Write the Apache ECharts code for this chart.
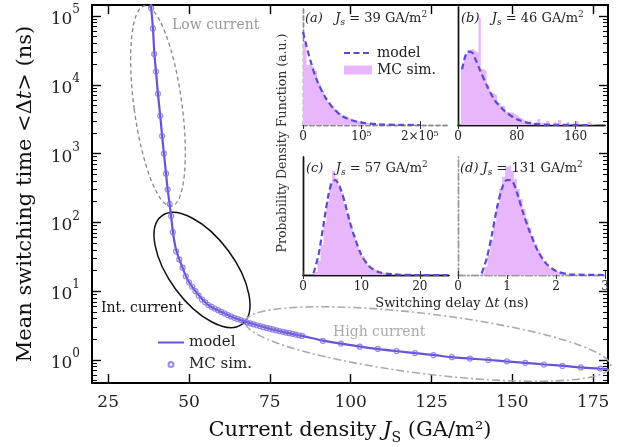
<!DOCTYPE html>
<html>
<head>
<meta charset="utf-8">
<script src="https://cdn.jsdelivr.net/npm/echarts@6/dist/echarts.min.js"></script>
<style>
  html, body { margin: 0; background: #fff; }
  #chart { width: 619px; height: 447px; }
</style>
</head>
<body>
<div id="chart"></div>
<script>
const FONT = 'DejaVu Serif';

// ---- main panel data ----
const xTicks = [25, 50, 75, 100, 125, 150, 175];
const yTicks = [1, 10, 100, 1000, 10000, 100000];
const yMinorTicks = [0.5, 0.6, 0.7, 0.8, 0.9,
  2, 3, 4, 5, 6, 7, 8, 9,
  20, 30, 40, 50, 60, 70, 80, 90,
  200, 300, 400, 500, 600, 700, 800, 900,
  2000, 3000, 4000, 5000, 6000, 7000, 8000, 9000,
  20000, 30000, 40000, 50000, 60000, 70000, 80000, 90000];

// model curve, [J (GA/m2), <dt> (ns)]
const modelCurve = [
  [38.2, 1.5e5], [38.85, 6.6e4], [39.3, 2.8e4], [39.8, 1.56e4], [40.4, 7.4e3],
  [41.1, 3.55e3], [41.7, 1.8e3], [42.25, 1.0e3], [42.9, 510], [43.4, 300],
  [44, 185], [44.5, 118], [45, 75], [45.5, 52], [46, 40], [47, 29], [48, 22],
  [49, 16.8], [50, 13.6], [52, 10], [54, 7.7], [56, 6.3], [58, 5.55], [60, 5.0],
  [63, 4.3], [66, 3.8], [70, 3.3], [75, 2.85], [80, 2.5], [85, 2.24], [91, 1.93],
  [97, 1.73], [103, 1.56], [108, 1.45], [114, 1.35], [120, 1.26], [126, 1.18],
  [131, 1.1], [137, 1.05], [143, 1.0], [148, 0.955], [154, 0.91], [160, 0.86],
  [166, 0.82], [171, 0.78], [177, 0.75], [179.6, 0.74]
];

// Monte Carlo points
const mcSim = [
  [38.3, 1.3e5], [38.85, 6.6e4], [39.25, 2.8e4], [39.8, 1.56e4], [40.4, 7.4e3],
  [41.1, 3.55e3], [41.7, 1.8e3], [42.25, 1.0e3], [42.9, 510], [43.4, 300],
  [44.0, 185], [44.5, 123], [45, 72], [46, 38], [47, 29], [48, 22], [49, 16.5],
  [50, 13.5], [51, 11.6], [52, 10], [53, 8.6], [54, 7.6], [55, 6.9], [56, 6.3],
  [57, 5.9], [58, 5.6], [59, 5.3], [60, 5.0], [61, 4.75], [62, 4.5], [63, 4.3],
  [64, 4.1], [65, 3.95], [66, 3.8], [67, 3.65], [68, 3.5], [69, 3.4], [70, 3.3],
  [71, 3.2], [72, 3.1], [73, 3.0], [74, 2.92], [75, 2.85], [76, 2.78], [77, 2.7],
  [78, 2.63], [79, 2.57], [80, 2.5], [81, 2.45], [82, 2.4], [83, 2.34], [84, 2.29],
  [85, 2.24], [91.4, 1.9], [97, 1.73], [102.8, 1.56], [108.4, 1.45], [114.2, 1.35],
  [119.9, 1.26], [125.6, 1.18], [131.3, 1.1], [136.9, 1.05], [142.6, 1.0],
  [148.3, 0.955], [154, 0.91], [159.8, 0.86], [165.5, 0.82], [171.2, 0.78], [177.2, 0.75]
];

// ---- inset data (pdf in a.u.) ----
const insetTags = ['a', 'b', 'c', 'd'];
const insetJs = [39, 46, 57, 131];
const insetXMax = [2.5e5, 200, 25, 3];
const ticksA = [0, 1e5, 2e5];
const labelsA = ['0', '10⁵', '2×10⁵'];
const ticksB = [0, 80, 160];
const labelsB = ['0', '80', '160'];
const ticksC = [0, 10, 20];
const labelsC = ['0', '10', '20'];
const ticksD = [0, 1, 2, 3];
const labelsD = ['0', '1', '2', '3'];

const histA = [[0, 82], [6000, 60], [12000, 58], [18000, 54], [24000, 42], [30000, 34],
  [36000, 28], [42000, 23], [48000, 19], [54000, 15], [60000, 12], [66000, 9.5],
  [72000, 7.5], [78000, 6], [84000, 4.8], [90000, 3.8], [96000, 3], [102000, 2.2],
  [108000, 1.8], [114000, 1.3], [120000, 1], [126000, 0.8], [132000, 0.6],
  [138000, 0.5], [144000, 0.4], [150000, 0.3], [156000, 0.25], [162000, 0.2],
  [168000, 0.1], [174000, 0.1], [180000, 0]];
const modelA = [[0, 93], [12400, 65], [23700, 45], [37800, 28], [51900, 16.7],
  [68800, 8.3], [97100, 2.7], [131000, 0.7], [165000, 0.1], [200000, 0]];

const histB = [[4, 59], [8, 70], [12, 75], [16, 76], [20, 74], [24, 72], [28, 107],
  [31, 56], [35, 54], [39, 40], [42, 44], [44, 32], [48, 30], [53, 22], [58, 19],
  [64, 13], [70, 12], [76, 10], [80, 8], [84, 6], [88, 4.5], [92, 3], [96, 5],
  [100, 2], [104, 3], [108, 6], [112, 2], [116, 1], [120, 4], [124, 1], [128, 3],
  [132, 1], [136, 5], [140, 1], [144, 0], [148, 3], [152, 0], [156, 1], [160, 4],
  [164, 0], [168, 1], [172, 0], [176, 3], [180, 1], [184, 0], [188, 2], [192, 0]];
const modelB = [[5.6, 55.7], [9.3, 67.4], [13.8, 73.4], [19.2, 72.4], [23.7, 65.7],
  [30.5, 54], [39.5, 39], [50.8, 24], [64.4, 13.4], [80.2, 5.7], [100.6, 1.4],
  [132, 0.2], [182, 0]];

const histC = [[2, 3], [2.5, 14], [3, 30], [3.5, 52], [4, 74], [4.5, 92], [5, 104],
  [5.5, 97], [6, 90], [6.5, 82], [7, 70], [7.5, 60], [8, 50], [8.5, 41], [9, 32],
  [9.5, 25], [10, 19], [10.5, 14], [11, 10], [11.5, 7], [12, 5], [12.5, 3.5],
  [13, 2.5], [13.5, 1.8], [14, 1.2], [14.5, 0.8], [15, 0.6], [16, 0.3], [17, 0.2], [18, 0]];
const modelC = [[1.8, 1.7], [2.65, 20], [3.5, 50], [4.35, 80], [4.9, 91.7], [5.5, 95],
  [6.3, 88], [7.2, 71.7], [8.0, 53.3], [8.9, 36.7], [10, 20], [11.4, 8.3],
  [13.1, 2.7], [15.4, 0.7], [19.3, 0], [24.7, 0]];

const histD = [[0.48, 2], [0.54, 8], [0.6, 20], [0.66, 35], [0.72, 52], [0.78, 70],
  [0.84, 86], [0.9, 98], [0.96, 108], [1.02, 110], [1.08, 104], [1.14, 96],
  [1.2, 86], [1.26, 76], [1.32, 66], [1.38, 56], [1.44, 47], [1.5, 39], [1.56, 31],
  [1.62, 25], [1.68, 19], [1.74, 14], [1.8, 10], [1.86, 7], [1.92, 5], [1.98, 3.5],
  [2.04, 2.5], [2.1, 1.8], [2.16, 1.2], [2.22, 0.8], [2.28, 0.5], [2.4, 0.2], [2.5, 0]];
const modelD = [[0.484, 1.7], [0.587, 16.7], [0.69, 40], [0.794, 66.7], [0.898, 86.7],
  [1.0, 95], [1.105, 94], [1.208, 81.7], [1.31, 65], [1.45, 45], [1.62, 25],
  [1.795, 11.7], [2.0, 4], [2.28, 0.7], [3.0, 0]];

const LINE_COLOR = '#6553d8';
const DASH_COLOR = '#5a4cd0';
const PINK = '#e7b6fb';

const insets = [
  { grid: { left: 303, top: 7, width: 146, height: 118 }, ticks: ticksA, labels: labelsA,
    hist: histA, model: modelA, border: [4, 3], color: '#8a8a8a', tx: 305, ty: 19, gap: '   ' },
  { grid: { left: 458, top: 7, width: 147, height: 118 }, ticks: ticksB, labels: labelsB,
    hist: histB, model: modelB, border: 'solid', color: '#111', tx: 461, ty: 19, gap: '   ' },
  { grid: { left: 303, top: 157, width: 146, height: 118 }, ticks: ticksC, labels: labelsC,
    hist: histC, model: modelC, border: 'solid', color: '#111', tx: 306, ty: 169, gap: '   ' },
  { grid: { left: 458, top: 157, width: 147, height: 118 }, ticks: ticksD, labels: labelsD,
    hist: histD, model: modelD, border: [7, 2.5, 1.5, 2.5], color: '#9a9a9a', tx: 460, ty: 169, gap: ' ' }
];

const chart = echarts.init(document.getElementById('chart'));

const grids = [{ left: 92, right: 11, top: 5, bottom: 64, outerBoundsMode: 'none' }];
const xAxes = [];
const yAxes = [];
const series = [];

const frame = { show: true, lineStyle: { color: '#000', width: 2 } };
const majorTick = { inside: true, length: 9, customValues: xTicks, lineStyle: { color: '#000', width: 1.4 } };

xAxes.push({
  gridIndex: 0, type: 'value', min: 20, max: 179.6, position: 'bottom',
  axisLine: frame, axisTick: majorTick, splitLine: { show: false },
  axisLabel: { customValues: xTicks, fontFamily: FONT, fontSize: 17, color: '#222', margin: 11 },
  name: 'Current density {i|J}{s|S} (GA/m²)', nameLocation: 'middle', nameGap: 34,
  nameTextStyle: {
    fontFamily: FONT, fontSize: 21, color: '#111', lineHeight: 28,
    rich: {
      i: { fontFamily: FONT, fontSize: 21, fontStyle: 'italic', color: '#111' },
      s: { fontFamily: FONT, fontSize: 14, color: '#111', verticalAlign: 'bottom', lineHeight: 28 }
    }
  }
});
xAxes.push({
  gridIndex: 0, type: 'value', min: 20, max: 179.6, position: 'top',
  axisLine: frame, axisTick: majorTick, axisLabel: { show: false }, splitLine: { show: false }
});

const yLabel = {
  customValues: yTicks, margin: 12,
  formatter: v => '{b|10}{e|' + Math.round(Math.log10(v)) + '}',
  rich: {
    b: { fontFamily: FONT, fontSize: 17, color: '#222', lineHeight: 24, verticalAlign: 'bottom' },
    e: { fontFamily: FONT, fontSize: 12, color: '#222', lineHeight: 24, verticalAlign: 'top' }
  }
};
['left', 'right'].forEach(pos => {
  yAxes.push({
    gridIndex: 0, type: 'log', logBase: 10, min: 0.463, max: 1.445e5, position: pos,
    axisLine: frame, splitLine: { show: false },
    axisTick: { inside: true, length: 9, customValues: yTicks, lineStyle: { color: '#000', width: 1.4 } },
    axisLabel: pos === 'left' ? yLabel : { show: false },
    name: pos === 'left' ? 'Mean switching time <Δ{i|t}> (ns)' : '',
    nameLocation: 'middle', nameGap: 56,
    nameTextStyle: {
      fontFamily: FONT, fontSize: 21, color: '#111',
      rich: { i: { fontFamily: FONT, fontSize: 21, fontStyle: 'italic', color: '#111' } }
    }
  });
  yAxes.push({
    gridIndex: 0, type: 'log', logBase: 10, min: 0.463, max: 1.445e5, position: pos,
    axisLine: { show: false }, splitLine: { show: false }, axisLabel: { show: false },
    axisTick: { inside: true, length: 5, customValues: yMinorTicks, lineStyle: { color: '#000', width: 1 } }
  });
});

series.push({
  name: 'model', type: 'line', xAxisIndex: 0, yAxisIndex: 0, data: modelCurve,
  smooth: 0.3, symbol: 'none', clip: true, z: 3,
  lineStyle: { color: LINE_COLOR, width: 2.2 }, itemStyle: { color: LINE_COLOR }
});
series.push({
  name: 'MC sim.', type: 'scatter', xAxisIndex: 0, yAxisIndex: 0, data: mcSim,
  symbol: 'circle', symbolSize: 5, z: 4,
  itemStyle: { color: 'rgba(255,255,255,0)', borderColor: '#7d6de6', borderWidth: 1.2 }
});

// insets
insets.forEach((p, k) => {
  const gi = k + 1;
  grids.push(Object.assign({ outerBoundsMode: 'none' }, p.grid));
  const line = { show: true, lineStyle: { color: p.color, width: 1.4, type: p.border } };
  const tick = { inside: true, length: 4, customValues: p.ticks, lineStyle: { color: '#333', width: 1 } };
  xAxes.push({
    gridIndex: gi, type: 'value', min: 0, max: insetXMax[k], position: 'bottom',
    axisLine: line, axisTick: tick, splitLine: { show: false },
    axisLabel: {
      customValues: p.ticks, formatter: v => p.labels[p.ticks.indexOf(v)],
      fontFamily: FONT, fontSize: 12, color: '#222', margin: 6
    }
  });
  xAxes.push({
    gridIndex: gi, type: 'value', min: 0, max: insetXMax[k], position: 'top',
    axisLine: line, axisTick: tick, axisLabel: { show: false }, splitLine: { show: false }
  });
  ['left', 'right'].forEach(pos => yAxes.push({
    gridIndex: gi, type: 'value', min: 0, max: 118, position: pos,
    axisLine: line, axisTick: { show: false }, axisLabel: { show: false }, splitLine: { show: false }
  }));
  const xi = 2 + k * 2;
  const yi = 4 + k * 2;
  series.push({
    name: k === 0 ? 'MC sim. ' : 'hist ' + insetTags[k], type: 'line', step: 'end',
    xAxisIndex: xi, yAxisIndex: yi, data: p.hist, symbol: 'none', z: 2,
    lineStyle: { width: 0, color: PINK }, itemStyle: { color: PINK },
    areaStyle: { color: PINK, opacity: 1 }
  });
  series.push({
    name: k === 0 ? 'model ' : 'model ' + insetTags[k], type: 'line',
    xAxisIndex: xi, yAxisIndex: yi, data: p.model, smooth: 0.3, symbol: 'none', z: 3,
    lineStyle: { color: DASH_COLOR, width: 2.2, type: [6, 3.5] }, itemStyle: { color: DASH_COLOR }
  });
});

const txtRich = {
  i: { fontFamily: FONT, fontSize: 13, fontStyle: 'italic', fill: '#222', lineHeight: 17 },
  s: { fontFamily: FONT, fontSize: 9, fontStyle: 'italic', fill: '#222', verticalAlign: 'bottom', lineHeight: 17 },
  n: { fontFamily: FONT, fontSize: 13, fill: '#222', lineHeight: 17 },
  p: { fontFamily: FONT, fontSize: 9, fill: '#222', verticalAlign: 'top', lineHeight: 17 }
};

const graphics = [
  { type: 'ellipse', x: 158, y: 106, rotation: 0.134, z: 1, silent: true,
    shape: { cx: 0, cy: 0, rx: 24, ry: 101 },
    style: { fill: 'none', stroke: '#888', lineWidth: 1.3, lineDash: [4, 3] } },
  { type: 'ellipse', x: 202, y: 270, rotation: -0.932, z: 1, silent: true,
    shape: { cx: 0, cy: 0, rx: 67.4, ry: 32.6 },
    style: { fill: 'none', stroke: '#111', lineWidth: 1.5 } },
  { type: 'ellipse', x: 428, y: 344, rotation: -0.122, z: 1, silent: true,
    shape: { cx: 0, cy: 0, rx: 184, ry: 30 },
    style: { fill: 'none', stroke: '#aaa', lineWidth: 1.6, lineDash: [8, 3, 2, 3] } },
  { type: 'text', x: 172, y: 25, silent: true,
    style: { text: 'Low current', font: '14px "DejaVu Serif"', fill: '#999', verticalAlign: 'middle' } },
  { type: 'text', x: 101, y: 308, silent: true,
    style: { text: 'Int. current', font: '14px "DejaVu Serif"', fill: '#111', verticalAlign: 'middle' } },
  { type: 'text', x: 333, y: 332, silent: true,
    style: { text: 'High current', font: '14px "DejaVu Serif"', fill: '#aaa', verticalAlign: 'middle' } },
  { type: 'text', x: 283, y: 143, rotation: Math.PI / 2, silent: true,
    style: { text: 'Probability Density Function (a.u.)', font: '12.5px "DejaVu Serif"', fill: '#333',
      align: 'center', verticalAlign: 'middle' } },
  { type: 'text', x: 452, y: 304, silent: true,
    style: { text: '{n|Switching delay Δ}{i|t}{n| (ns)}', rich: txtRich, fill: '#333',
      align: 'center', verticalAlign: 'middle' } }
];
insets.forEach((p, k) => {
  graphics.push({
    type: 'text', x: p.tx, y: p.ty, silent: true, z: 5,
    style: {
      text: '{i|(' + insetTags[k] + ')}{n|' + p.gap + '}{i|J}{s|s}{n| = ' + insetJs[k] + ' GA/m}{p|2}',
      rich: txtRich, verticalAlign: 'middle'
    }
  });
});

chart.setOption({
  animation: false,
  backgroundColor: '#fff',
  grid: grids,
  xAxis: xAxes,
  yAxis: yAxes,
  legend: [
    { left: 157, top: 335, orient: 'vertical', padding: 0, itemWidth: 26, itemHeight: 5, itemGap: 7,
      data: [{ name: 'model', itemStyle: { opacity: 0 } }, 'MC sim.'],
      textStyle: { fontFamily: FONT, fontSize: 15, color: '#222' } },
    { left: 343, top: 46, orient: 'vertical', padding: 0, itemWidth: 28, itemHeight: 9, itemGap: 3,
      data: [{ name: 'model ', itemStyle: { opacity: 0 } }, { name: 'MC sim. ', icon: 'rect' }],
      formatter: n => n.trim(),
      textStyle: { fontFamily: FONT, fontSize: 14, color: '#222' } }
  ],
  series: series,
  graphic: graphics
});
</script>
</body>
</html>
